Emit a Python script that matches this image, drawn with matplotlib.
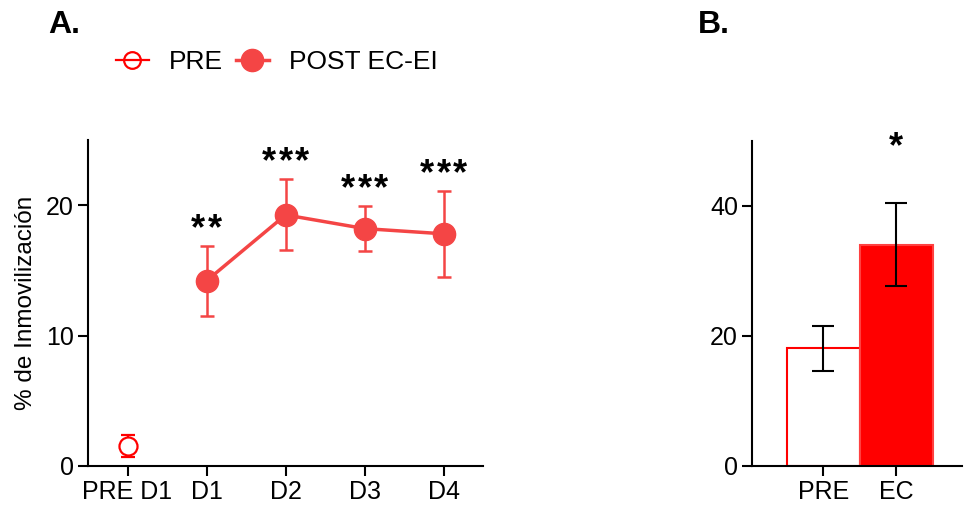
import matplotlib.pyplot as plt
from matplotlib.lines import Line2D
import numpy as np

plt.rcParams['font.family'] = ['Liberation Sans', 'DejaVu Sans']

# Panel A: immobility across days
days = ['PRE D1', 'D1', 'D2', 'D3', 'D4']
pre_mean = [1.5]
pre_sem = [0.85]
post_mean = [14.2, 19.25, 18.2, 17.8]
post_sem = [2.67, 2.72, 1.7, 3.3]
post_stars = ['**', '***', '***', '***']

# Panel B: bar comparison
groups = ['PRE', 'EC']
bar_mean = [18.1, 34.05]
bar_sem = [3.5, 6.35]
bar_stars = ['', '*']

red_line = '#f44545'
red = '#ff0000'

fig = plt.figure(figsize=(9.64, 5.07), dpi=100)
axA = fig.add_axes([0.0913, 0.081, 0.41, 0.643])
axB = fig.add_axes([0.780, 0.081, 0.218, 0.641])

x_post = np.arange(1, 5)
axA.errorbar([0], pre_mean, yerr=pre_sem, fmt='o', mfc='white', mec=red,
             color=red, ms=13, mew=1.6, ecolor=red, elinewidth=1.5,
             capsize=5, capthick=1.5, zorder=3)
axA.errorbar(x_post, post_mean, yerr=post_sem, fmt='-o', color=red_line,
             ms=16, lw=2.5, ecolor=red_line, elinewidth=1.8, capsize=5,
             capthick=1.8, zorder=3)

# significance stars, one glyph at a time so the spacing can be set
star_gap = 12  # points between star centres
for xi, m, s, st in zip(x_post, post_mean, post_sem, post_stars):
    n = len(st)
    for k in range(n):
        dx = (k - (n - 1) / 2) * star_gap
        axA.annotate('*', xy=(xi, m + s), xytext=(dx, 5),
                     textcoords='offset points', ha='center',
                     va='baseline', fontsize=26, fontweight='bold')

axA.set_xlim(-0.5, 4.5)
axA.set_ylim(0, 25)
axA.set_yticks([0, 10, 20])
axA.set_xticks(range(len(days)))
axA.set_xticklabels(days)
axA.set_ylabel('% de Inmovilización', fontsize=17.5, labelpad=7)

xb = np.arange(len(groups))
axB.bar(xb, bar_mean, width=1.0, color=['white', red],
        edgecolor=[red, '#ff4040'], linewidth=1.5, zorder=2)
axB.errorbar(xb, bar_mean, yerr=bar_sem, fmt='none', ecolor='black',
             elinewidth=1.5, capsize=8, capthick=1.5, zorder=3)
for xi, m, s, st in zip(xb, bar_mean, bar_sem, bar_stars):
    if st:
        axB.text(xi, 49.0, st, ha='center', va='center', fontsize=26,
                 fontweight='bold')
axB.set_xlim(-0.98, 1.9)
axB.set_ylim(0, 50)
axB.set_yticks([0, 20, 40])
axB.set_xticks(xb)
axB.set_xticklabels(groups)

for ax in (axA, axB):
    for sp in ('top', 'right'):
        ax.spines[sp].set_visible(False)
    for sp in ('left', 'bottom'):
        ax.spines[sp].set_linewidth(1.5)
    ax.tick_params(width=1.5, length=7, labelsize=18, pad=3)

fig.text(0.050, 0.935, 'A.', fontsize=23, fontweight='bold')
fig.text(0.724, 0.935, 'B.', fontsize=23, fontweight='bold')

handles = [
    Line2D([], [], color=red, lw=1.6, marker='o', ms=12, mfc='none',
           mec=red, mew=1.6),
    Line2D([], [], color=red_line, lw=2.5, marker='o', ms=16,
           mfc=red_line, mec=red_line),
]
fig.legend(handles, ['PRE', 'POST EC-EI'], loc='center left',
           bbox_to_anchor=(0.101, 0.877), ncol=2, frameon=False,
           fontsize=19, handlelength=1.25, handletextpad=0.75,
           columnspacing=0.5, borderpad=0.2)

fig.savefig('out.png', dpi=100)
